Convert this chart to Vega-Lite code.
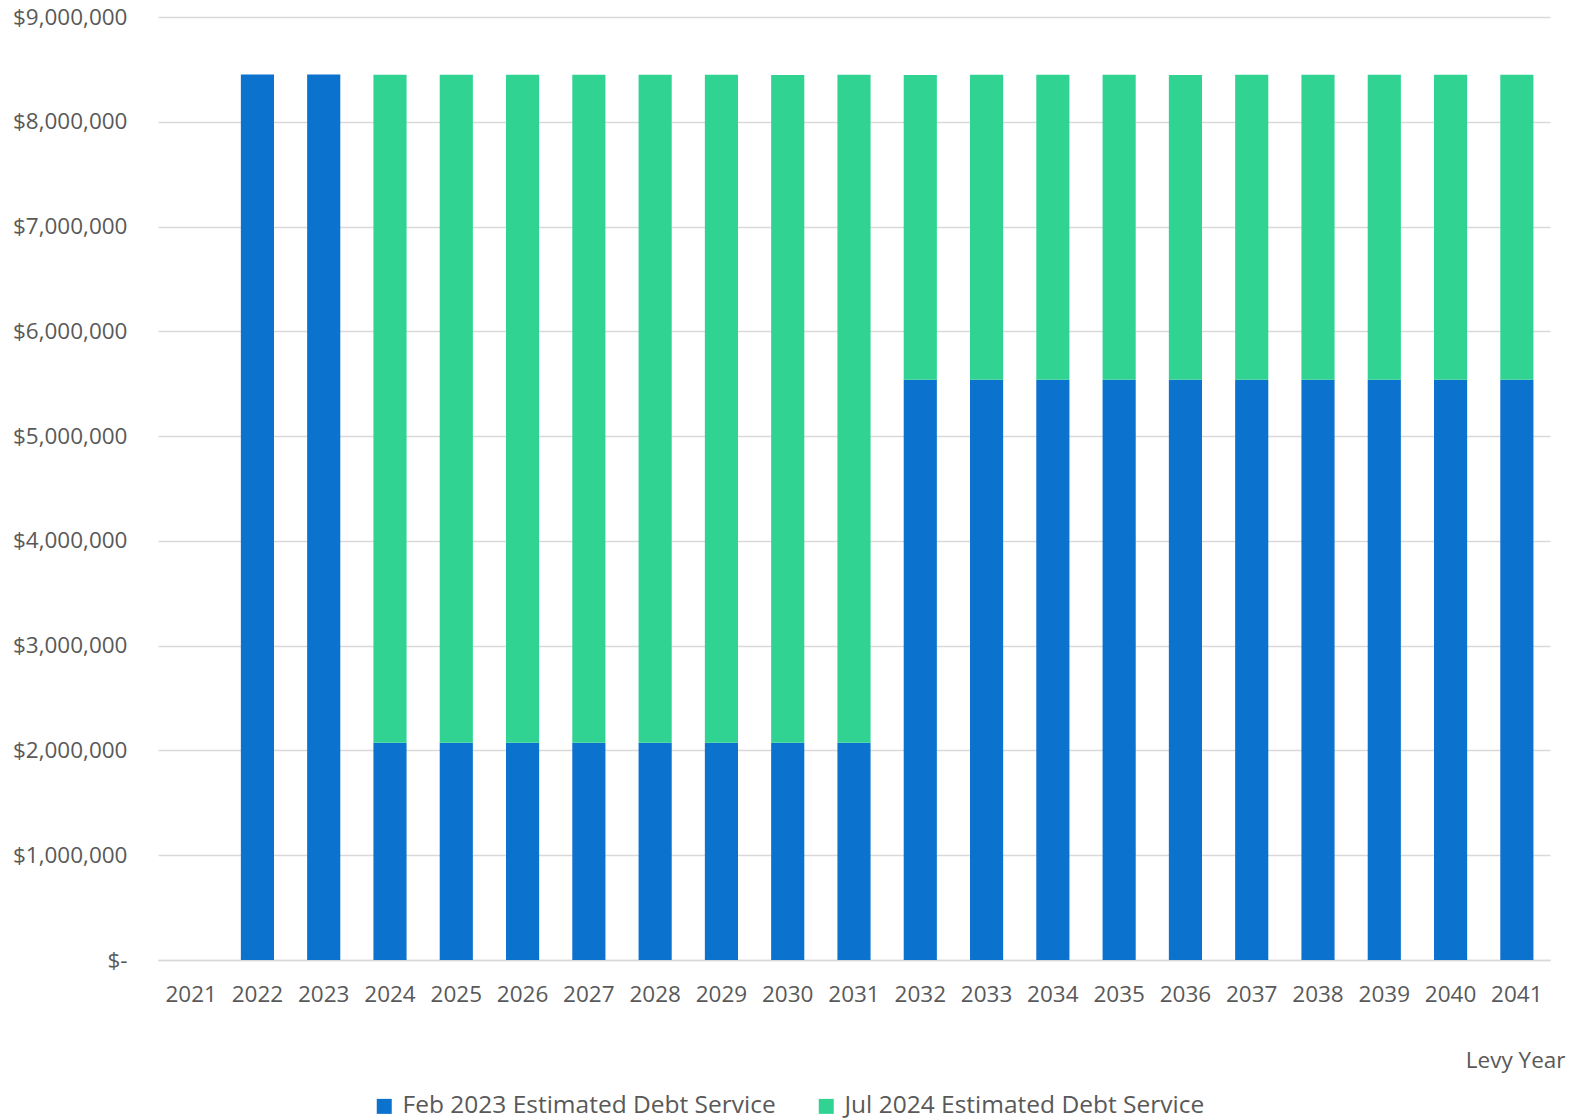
{
  "$schema": "https://vega.github.io/schema/vega-lite/v6.json",
  "width": 1392,
  "height": 943,
  "autosize": {"type": "none"},
  "padding": {"left": 158, "top": 17, "right": 28, "bottom": 160},
  "background": "white",
  "config": {
    "font": "Open Sans",
    "view": {"stroke": null},
    "axis": {"labelColor": "#595959", "titleColor": "#595959", "labelFont": "Open Sans", "titleFont": "Open Sans"},
    "legend": {"labelColor": "#595959", "labelFont": "Open Sans"}
  },
  "data": {
    "values": [
      {"year": "2021", "series": "Feb 2023 Estimated Debt Service", "amount": 0},
      {"year": "2021", "series": "Jul 2024 Estimated Debt Service", "amount": 0},
      {"year": "2022", "series": "Feb 2023 Estimated Debt Service", "amount": 8452000},
      {"year": "2022", "series": "Jul 2024 Estimated Debt Service", "amount": 0},
      {"year": "2023", "series": "Feb 2023 Estimated Debt Service", "amount": 8452000},
      {"year": "2023", "series": "Jul 2024 Estimated Debt Service", "amount": 0},
      {"year": "2024", "series": "Feb 2023 Estimated Debt Service", "amount": 2073000},
      {"year": "2024", "series": "Jul 2024 Estimated Debt Service", "amount": 6375000},
      {"year": "2025", "series": "Feb 2023 Estimated Debt Service", "amount": 2073000},
      {"year": "2025", "series": "Jul 2024 Estimated Debt Service", "amount": 6376000},
      {"year": "2026", "series": "Feb 2023 Estimated Debt Service", "amount": 2073000},
      {"year": "2026", "series": "Jul 2024 Estimated Debt Service", "amount": 6376000},
      {"year": "2027", "series": "Feb 2023 Estimated Debt Service", "amount": 2073000},
      {"year": "2027", "series": "Jul 2024 Estimated Debt Service", "amount": 6375000},
      {"year": "2028", "series": "Feb 2023 Estimated Debt Service", "amount": 2073000},
      {"year": "2028", "series": "Jul 2024 Estimated Debt Service", "amount": 6376000},
      {"year": "2029", "series": "Feb 2023 Estimated Debt Service", "amount": 2073000},
      {"year": "2029", "series": "Jul 2024 Estimated Debt Service", "amount": 6376000},
      {"year": "2030", "series": "Feb 2023 Estimated Debt Service", "amount": 2073000},
      {"year": "2030", "series": "Jul 2024 Estimated Debt Service", "amount": 6374000},
      {"year": "2031", "series": "Feb 2023 Estimated Debt Service", "amount": 2073000},
      {"year": "2031", "series": "Jul 2024 Estimated Debt Service", "amount": 6376000},
      {"year": "2032", "series": "Feb 2023 Estimated Debt Service", "amount": 5537000},
      {"year": "2032", "series": "Jul 2024 Estimated Debt Service", "amount": 2910000},
      {"year": "2033", "series": "Feb 2023 Estimated Debt Service", "amount": 5537000},
      {"year": "2033", "series": "Jul 2024 Estimated Debt Service", "amount": 2911000},
      {"year": "2034", "series": "Feb 2023 Estimated Debt Service", "amount": 5537000},
      {"year": "2034", "series": "Jul 2024 Estimated Debt Service", "amount": 2911000},
      {"year": "2035", "series": "Feb 2023 Estimated Debt Service", "amount": 5537000},
      {"year": "2035", "series": "Jul 2024 Estimated Debt Service", "amount": 2912000},
      {"year": "2036", "series": "Feb 2023 Estimated Debt Service", "amount": 5537000},
      {"year": "2036", "series": "Jul 2024 Estimated Debt Service", "amount": 2909000},
      {"year": "2037", "series": "Feb 2023 Estimated Debt Service", "amount": 5537000},
      {"year": "2037", "series": "Jul 2024 Estimated Debt Service", "amount": 2911000},
      {"year": "2038", "series": "Feb 2023 Estimated Debt Service", "amount": 5537000},
      {"year": "2038", "series": "Jul 2024 Estimated Debt Service", "amount": 2911000},
      {"year": "2039", "series": "Feb 2023 Estimated Debt Service", "amount": 5537000},
      {"year": "2039", "series": "Jul 2024 Estimated Debt Service", "amount": 2912000},
      {"year": "2040", "series": "Feb 2023 Estimated Debt Service", "amount": 5537000},
      {"year": "2040", "series": "Jul 2024 Estimated Debt Service", "amount": 2911000},
      {"year": "2041", "series": "Feb 2023 Estimated Debt Service", "amount": 5537000},
      {"year": "2041", "series": "Jul 2024 Estimated Debt Service", "amount": 2911000}
    ]
  },
  "mark": {"type": "bar"},
  "encoding": {
    "x": {
      "field": "year", "type": "ordinal",
      "scale": {"paddingInner": 0.5, "paddingOuter": 0.25},
      "axis": {
        "title": "Levy Year", "labelAngle": 0, "labelFontSize": 22.5, "labelPadding": 23, "labelOverlap": false,
        "ticks": false, "domain": true, "domainColor": "#D9D9D9", "domainWidth": 1.5,
        "titleFontSize": 22.5, "titleFontWeight": "normal", "titleAnchor": "end", "titleAlign": "right",
        "titleX": 1407, "titleY": 100, "titleBaseline": "middle"
      }
    },
    "y": {
      "field": "amount", "type": "quantitative", "aggregate": "sum", "stack": "zero",
      "scale": {"domain": [0, 9000000], "nice": false},
      "axis": {
        "title": null, "values": [0,1000000,2000000,3000000,4000000,5000000,6000000,7000000,8000000,9000000],
        "labelExpr": "datum.value == 0 ? '$-' : '$' + format(datum.value, ',')",
        "labelFontSize": 22.5, "labelPadding": 31, "labelOverlap": false, "ticks": false, "domain": false,
        "grid": true, "gridColor": "#D9D9D9", "gridWidth": 1.5
      }
    },
    "color": {
      "field": "series", "type": "nominal",
      "scale": {"domain": ["Feb 2023 Estimated Debt Service", "Jul 2024 Estimated Debt Service"], "range": ["#0B72CE", "#31D392"]},
      "legend": {
        "title": null, "orient": "none", "direction": "horizontal", "legendX": 214, "legendY": 1077,
        "symbolType": "square", "symbolSize": 225, "symbolStrokeWidth": 0, "labelFontSize": 24.5,
        "labelLimit": 0, "columnPadding": 38, "labelOffset": 6
      }
    },
    "order": {"field": "series", "sort": "ascending"}
  }
}
